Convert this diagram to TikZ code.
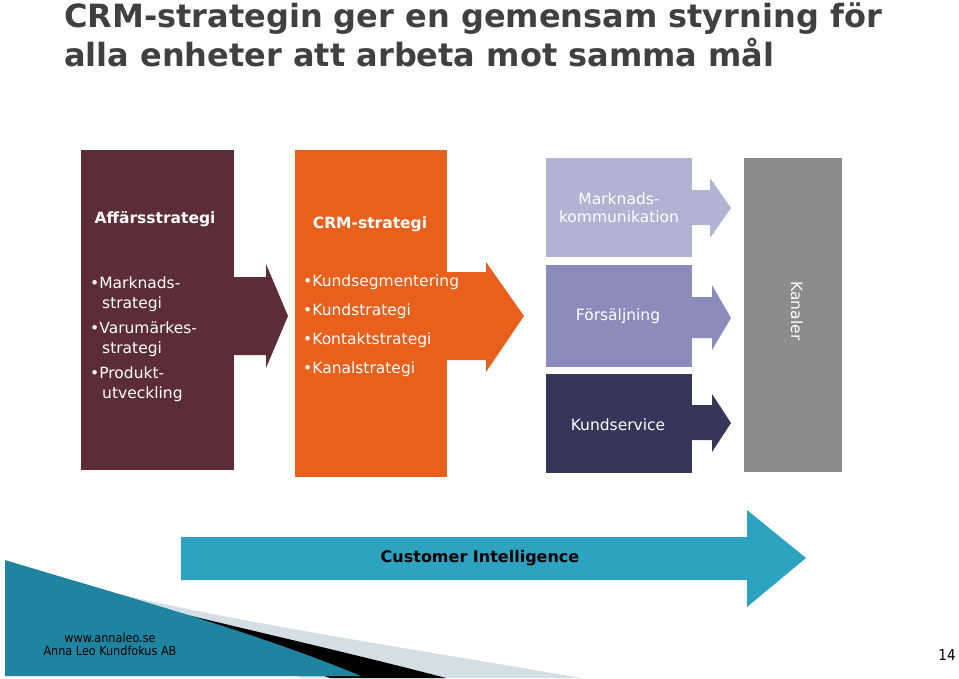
\documentclass[tikz,border=0pt]{standalone}
\usepackage{fontspec}
\setmainfont{DejaVu Sans}
\newfontfamily\condf{DejaVu Sans Condensed}
\begin{document}
\begin{tikzpicture}[x=1pt,y=-1pt,
 txt/.style={font=\fontsize{15.5}{18}\selectfont, align=center},
 btxt/.style={font=\bfseries\fontsize{15.5}{18}\selectfont},
 lst/.style={font=\fontsize{15.5}{19.5}\selectfont, align=left, inner sep=0pt, anchor=north west}]
\definecolor{maroon}{HTML}{5C2D37}
\definecolor{orng}{HTML}{E8601C}
\definecolor{lpur}{HTML}{B0B3D2}
\definecolor{mpur}{HTML}{8A8DBB}
\definecolor{navy}{HTML}{363758}
\definecolor{grey}{HTML}{8C8C8C}
\definecolor{teal}{HTML}{2DA3C1}
\definecolor{dteal}{HTML}{1E84A0}
\definecolor{lblue}{HTML}{D3DFE4}
\definecolor{ttl}{HTML}{404040}
\useasboundingbox (0,0) rectangle (959,678);
\fill[white] (0,0) rectangle (959,678);
% title
\node[anchor=north west, inner sep=0pt, align=left, text=ttl, font=\bfseries\fontsize{32}{39}\selectfont] (title) at (64,3) {CRM-strategin ger en gemensam styrning för\\alla enheter att arbeta mot samma mål};
% column 1
\fill[maroon] (81,150) rectangle (234,470);
\fill[maroon] (234,277) -- (266,277) -- (266,264) -- (288,316) -- (266,368) -- (266,355) -- (234,355) -- cycle;
\node[btxt, text=white] (aff) at (155,219) {Affärsstrategi};
\node[lst, text=white] (l1) at (90,277) {•Marknads-\\\hspace{12pt}strategi\\[6pt]•Varumärkes-\\\hspace{12pt}strategi\\[6pt]•Produkt-\\\hspace{12pt}utveckling};
% column 2
\fill[orng] (295,150) rectangle (447,477);
\fill[orng] (447,272) -- (486,272) -- (486,262) -- (524,316) -- (486,372) -- (486,360) -- (447,360) -- cycle;
\node[btxt, text=white] (crm) at (370,224) {CRM-strategi};
\node[lst, text=white, font=\fontsize{15.5}{29}\selectfont] (l2) at (303,275) {•Kundsegmentering\\•Kundstrategi\\•Kontaktstrategi\\•Kanalstrategi};
% column 3
\fill[lpur] (546,158) rectangle (692,257);
\fill[lpur] (692,190) -- (710,190) -- (710,178) -- (731,208) -- (710,238) -- (710,225) -- (692,225) -- cycle;
\node[txt, text=white] (mk) at (619,208) {Marknads-\\kommunikation};
\fill[mpur] (546,265) rectangle (692,367);
\fill[mpur] (692,297) -- (712,297) -- (712,285) -- (731,318) -- (712,350) -- (712,338) -- (692,338) -- cycle;
\node[txt, text=white] (fs) at (618,316) {Försäljning};
\fill[navy] (546,374) rectangle (692,473);
\fill[navy] (692,405) -- (712,405) -- (712,394) -- (731,423) -- (712,452) -- (712,440) -- (692,440) -- cycle;
\node[txt, text=white] (ks) at (618,425) {Kundservice};
% column 4
\fill[grey] (744,158) rectangle (842,472);
\node[txt, text=white, rotate=-90] (kan) at (797,311) {Kanaler};
% customer intelligence
\fill[teal] (181,537) -- (747,537) -- (747,510) -- (806,558) -- (747,607) -- (747,580) -- (181,580) -- cycle;
\node[btxt, font=\bfseries\fontsize{16}{18}\selectfont] (ci) at (480,558) {Customer Intelligence};
% swoosh
\fill[lblue] (110,592) .. controls (250,625) and (420,650) .. (581,678) -- (300,678) -- cycle;
\fill[black] (60,583) .. controls (180,615) and (320,645) .. (446,678) -- (330,678) -- cycle;
\fill[dteal] (5,560) .. controls (120,595) and (250,630) .. (361,676) -- (5,676) -- cycle;
\node[font=\condf\fontsize{12.5}{13}\selectfont, align=center] (web) at (110,644) {www.annaleo.se\\Anna Leo Kundfokus AB};
\node[font=\condf\fontsize{15}{16}\selectfont] (pg) at (947,655) {14};
\end{tikzpicture}
\end{document}
